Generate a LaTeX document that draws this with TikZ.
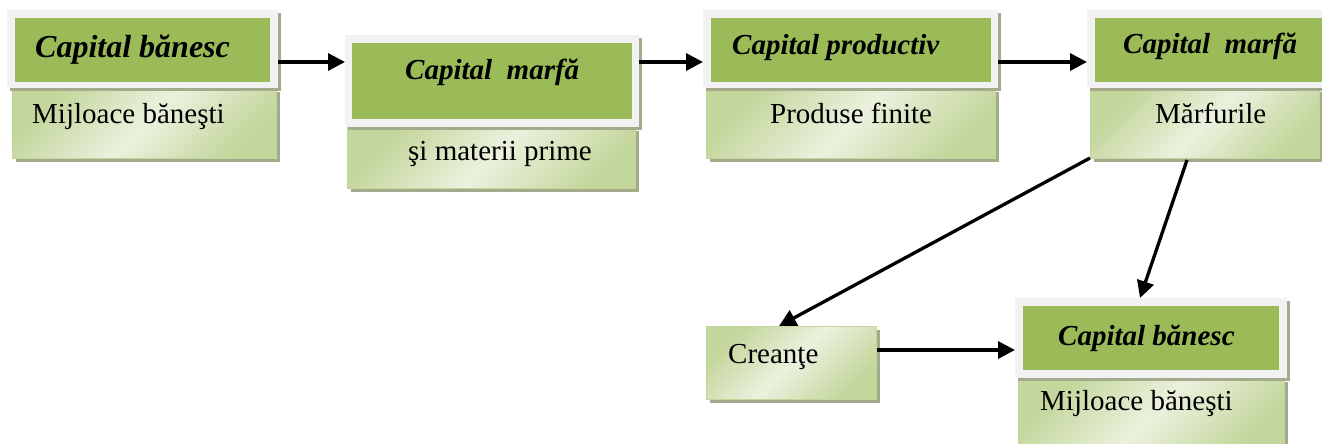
\documentclass[tikz,border=0pt]{standalone}
\usepackage{fontspec}
\setmainfont{Liberation Serif}
\usetikzlibrary{shadows,arrows.meta}
\definecolor{titlegreen}{HTML}{9BBB59}
\definecolor{framegray}{HTML}{F2F2F2}
\definecolor{lightdark}{HTML}{C3D69B}
\definecolor{lightpale}{HTML}{EBF1DE}
\definecolor{shadowcol}{HTML}{A3AB8C}
\tikzset{
  framebox/.style={draw=none, fill=framegray, inner sep=0pt, anchor=north west,
    drop shadow={shadow xshift=3pt, shadow yshift=-3pt, fill=shadowcol, opacity=1}},
  titlefill/.style={draw=none, fill=titlegreen, inner sep=0pt, anchor=north west},
  lowerbox/.style={draw=lightdark, line width=1.2pt, left color=lightdark, right color=lightdark,
    middle color=lightpale, shading angle=45, inner sep=0pt, anchor=north west,
    drop shadow={shadow xshift=3pt, shadow yshift=-3pt, fill=shadowcol, opacity=1}},
  titletext/.style={font=\fontsize{29}{34}\selectfont\bfseries\itshape, inner sep=0pt, anchor=base west},
  bigtitletext/.style={font=\fontsize{32}{38}\selectfont\bfseries\itshape, inner sep=0pt, anchor=base west},
  bodytext/.style={font=\fontsize{29}{34}\selectfont, inner sep=0pt, anchor=base west},
  flowarrow/.style={-{Triangle[length=17pt,width=17pt]}, line width=3.3pt}
}
\begin{document}
\begin{tikzpicture}[x=1pt,y=-1pt]
\useasboundingbox (0,0) rectangle (1322,444);

% Box 1
\node[lowerbox, minimum width=264pt, minimum height=70pt] (b1low) at (12,88) {};
\node[framebox, minimum width=271pt, minimum height=78pt] (b1) at (7,10) {};
\node[titlefill, minimum width=255pt, minimum height=64pt] (b1in) at (15,18) {};
\node[bigtitletext] (t1) at (35,58) {Capital bănesc};
\node[bodytext] (l1) at (32,123) {Mijloace băneşti};

% Box 2
\node[lowerbox, minimum width=288pt, minimum height=61pt] (b2low) at (347,127) {};
\node[framebox, minimum width=294pt, minimum height=92pt] (b2) at (345,35) {};
\node[titlefill, minimum width=280pt, minimum height=76pt] (b2in) at (352,43) {};
\node[titletext] (t2) at (405,80) {Capital~~marfă};
\node[bodytext] (l2) at (408,160) {şi materii prime};

% Box 3
\node[lowerbox, minimum width=289pt, minimum height=70pt] (b3low) at (706,88) {};
\node[framebox, minimum width=295pt, minimum height=78pt] (b3) at (703,10) {};
\node[titlefill, minimum width=280pt, minimum height=64pt] (b3in) at (711,18) {};
\node[titletext] (t3) at (732,55) {Capital productiv};
\node[bodytext] (l3) at (770,123) {Produse finite};

% Box 4
\node[lowerbox, minimum width=229pt, minimum height=70pt] (b4low) at (1090,88) {};
\node[framebox, minimum width=250pt, minimum height=78pt] (b4) at (1087,10) {};
\node[titlefill, minimum width=240pt, minimum height=64pt] (b4in) at (1095,18) {};
\node[titletext] (t4) at (1123,53) {Capital~~marfă};
\node[bodytext] (l4) at (1155,123) {Mărfurile};

% Creante
\node[lowerbox, minimum width=170pt, minimum height=73pt] (cr) at (706,326) {};
\node[bodytext] (tc) at (728,363) {Creanţe};

% Bottom box
\node[lowerbox, minimum width=266pt, minimum height=75pt] (b5low) at (1018,378) {};
\node[framebox, minimum width=272pt, minimum height=80pt] (b5) at (1015,298) {};
\node[titlefill, minimum width=256pt, minimum height=64pt] (b5in) at (1023,306) {};
\node[titletext] (t5) at (1058,345) {Capital bănesc};
\node[bodytext] (l5) at (1040,410) {Mijloace băneşti};

% connector end points
\coordinate (a1s) at (b1.east |- 0,62);
\coordinate (a1e) at (b2.west |- 0,62);
\coordinate (a2s) at (b2.east |- 0,62);
\coordinate (a2e) at (b3.west |- 0,62);
\coordinate (a3s) at (b3.east |- 0,62);
\coordinate (a3e) at (b4.west |- 0,62);
\coordinate (a4s) at (1090,158);
\coordinate (a4e) at (779,326);
\coordinate (a5s) at (1187,160);
\coordinate (a5e) at (1140,298);
\coordinate (a6s) at (cr.east |- 0,350);
\coordinate (a6e) at (b5.west |- 0,350);

\draw[flowarrow] (a1s) -- (a1e);
\draw[flowarrow] (a2s) -- (a2e);
\draw[flowarrow] (a3s) -- (a3e);
\draw[flowarrow] (a4s) -- (a4e);
\draw[flowarrow] (a5s) -- (a5e);
\draw[flowarrow] (a6s) -- (a6e);
\end{tikzpicture}
\end{document}
